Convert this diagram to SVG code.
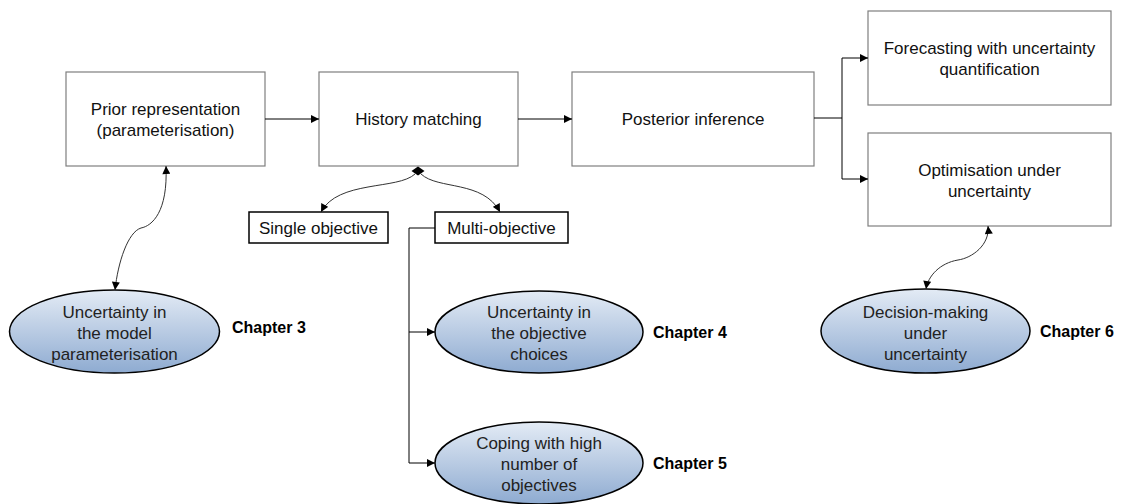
<svg xmlns="http://www.w3.org/2000/svg" width="1127" height="504" viewBox="0 0 1127 504">
  <defs>
    <linearGradient id="bubble" x1="0" y1="0" x2="0" y2="1">
      <stop offset="0" stop-color="#e3ebf5"/>
      <stop offset="0.5" stop-color="#b9cbe3"/>
      <stop offset="1" stop-color="#8eabd1"/>
    </linearGradient>
    <marker id="arrow" viewBox="0 0 10 10" refX="10" refY="5" markerWidth="9" markerHeight="8" markerUnits="userSpaceOnUse" orient="auto">
      <path d="M0,0 L10,5 L0,10 Z" fill="#000"/>
    </marker>
    <marker id="arrowStart" viewBox="0 0 10 10" refX="0" refY="5" markerWidth="9" markerHeight="8" markerUnits="userSpaceOnUse" orient="auto">
      <path d="M10,0 L0,5 L10,10 Z" fill="#000"/>
    </marker>
  </defs>
  <style>
    .box { fill: #fff; stroke: #7f7f7f; stroke-width: 1.2; }
    .tag { fill: #fff; stroke: #000; stroke-width: 1.5; }
    .oval { fill: url(#bubble); stroke: #000; stroke-width: 1.5; }
    .lbl { font-family: "Liberation Sans", Arial, sans-serif; font-size: 17px; fill: #111; text-anchor: middle; }
    .olbl { font-family: "Liberation Sans", Arial, sans-serif; font-size: 17px; fill: #222; text-anchor: middle; }
    .chap { font-family: "Liberation Sans", Arial, sans-serif; font-size: 16px; font-weight: bold; fill: #000; }
    .edge { fill: none; stroke: #000; stroke-width: 1; }
    .curve { fill: none; stroke: #333; stroke-width: 1; }
  </style>

  <!-- main pipeline boxes -->
  <g id="prior">
    <rect class="box" x="66" y="72" width="199" height="94"/>
    <text class="lbl" x="165.5" y="115">Prior representation</text>
    <text class="lbl" x="165.5" y="136">(parameterisation)</text>
  </g>
  <g id="history">
    <rect class="box" x="319" y="72" width="199" height="94"/>
    <text class="lbl" x="418.5" y="125">History matching</text>
  </g>
  <g id="posterior">
    <rect class="box" x="572" y="72" width="242" height="94"/>
    <text class="lbl" x="693" y="125">Posterior inference</text>
  </g>
  <g id="forecast">
    <rect class="box" x="868" y="11" width="243" height="94"/>
    <text class="lbl" x="989.5" y="54">Forecasting with uncertainty</text>
    <text class="lbl" x="989.5" y="75">quantification</text>
  </g>
  <g id="optimisation">
    <rect class="box" x="868" y="133" width="243" height="93"/>
    <text class="lbl" x="989.5" y="176">Optimisation under</text>
    <text class="lbl" x="989.5" y="197">uncertainty</text>
  </g>

  <!-- objective tags -->
  <g id="single">
    <rect class="tag" x="249" y="212" width="139" height="31"/>
    <text class="lbl" x="318.5" y="234">Single objective</text>
  </g>
  <g id="multi">
    <rect class="tag" x="435" y="212" width="133" height="31"/>
    <text class="lbl" x="501.5" y="234">Multi-objective</text>
  </g>

  <!-- uncertainty themes -->
  <g id="ch3">
    <ellipse class="oval" cx="114.5" cy="331.5" rx="105" ry="41.5"/>
    <text class="olbl" x="114.5" y="318">Uncertainty in</text>
    <text class="olbl" x="114.5" y="339">the model</text>
    <text class="olbl" x="114.5" y="360">parameterisation</text>
    <text class="chap" x="232" y="333">Chapter 3</text>
  </g>
  <g id="ch4">
    <ellipse class="oval" cx="539" cy="332" rx="104" ry="41"/>
    <text class="olbl" x="539" y="318">Uncertainty in</text>
    <text class="olbl" x="539" y="339">the objective</text>
    <text class="olbl" x="539" y="360">choices</text>
    <text class="chap" x="653" y="338">Chapter 4</text>
  </g>
  <g id="ch5">
    <ellipse class="oval" cx="539" cy="463" rx="104" ry="41"/>
    <text class="olbl" x="539" y="449">Coping with high</text>
    <text class="olbl" x="539" y="470">number of</text>
    <text class="olbl" x="539" y="491">objectives</text>
    <text class="chap" x="653" y="469">Chapter 5</text>
  </g>
  <g id="ch6">
    <ellipse class="oval" cx="925.5" cy="331" rx="104.5" ry="42"/>
    <text class="olbl" x="925.5" y="318">Decision-making</text>
    <text class="olbl" x="925.5" y="339">under</text>
    <text class="olbl" x="925.5" y="360">uncertainty</text>
    <text class="chap" x="1040" y="337">Chapter 6</text>
  </g>

  <g id="connectors">
    <!-- pipeline -->
    <path class="edge" d="M265,119 H319" marker-end="url(#arrow)"/>
    <path class="edge" d="M518,119 H572" marker-end="url(#arrow)"/>
    <path class="edge" d="M814,118 H842 M842,58 V179"/>
    <path class="edge" d="M842,58 H868" marker-end="url(#arrow)"/>
    <path class="edge" d="M842,179 H868" marker-end="url(#arrow)"/>

    <!-- history matching split -->
    <path d="M418,166.5 L424.5,171 L418,175.5 L411.5,171 Z" fill="#000"/>
    <path class="curve" d="M415,174 C398,190 338,180 321,212" marker-end="url(#arrow)"/>
    <path class="curve" d="M421,174 C438,190 483,180 500,212" marker-end="url(#arrow)"/>

    <!-- multi-objective branches -->
    <path class="edge" d="M435,228 H409 V463"/>
    <path class="edge" d="M409,332 H435" marker-end="url(#arrow)"/>
    <path class="edge" d="M409,463 H435" marker-end="url(#arrow)"/>

    <!-- two-way links to themes -->
    <path class="curve" d="M166,166 C168,212 152,226 141,228 C128,232 118,262 115,290" marker-start="url(#arrowStart)" marker-end="url(#arrow)"/>
    <path class="curve" d="M988,226 C990,245 972,258 958,260 C940,263 928,276 926,289" marker-start="url(#arrowStart)" marker-end="url(#arrow)"/>
  </g>
</svg>
